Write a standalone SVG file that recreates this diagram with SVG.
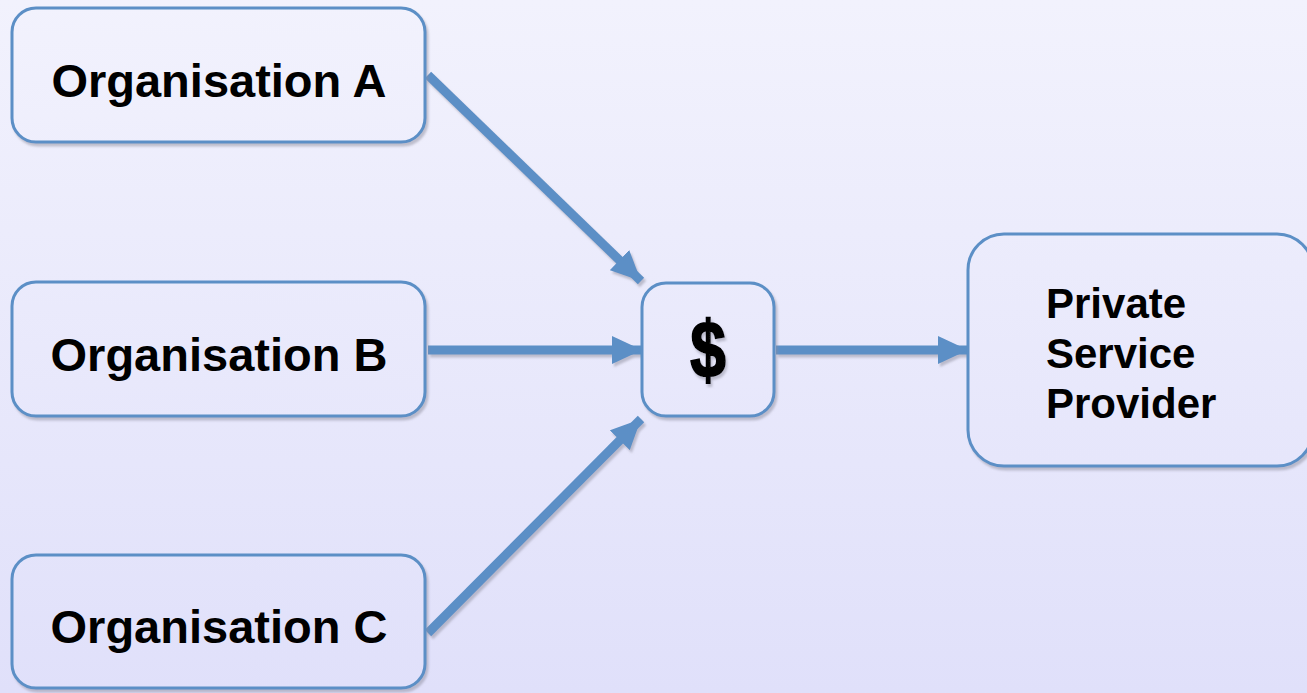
<svg xmlns="http://www.w3.org/2000/svg" width="1307" height="693" viewBox="0 0 1307 693">
<defs>
<linearGradient id="bg" x1="0" y1="0" x2="0" y2="693" gradientUnits="userSpaceOnUse">
<stop offset="0" stop-color="#f2f2fd"/>
<stop offset="1" stop-color="#e0e0fa"/>
</linearGradient>
<filter id="sh" x="-10%" y="-10%" width="130%" height="130%">
<feDropShadow dx="2" dy="3" stdDeviation="1" flood-color="#8c8c9c" flood-opacity="0.5"/>
</filter>
<filter id="shu" filterUnits="userSpaceOnUse" x="0" y="0" width="1307" height="693">
<feDropShadow dx="2" dy="3" stdDeviation="1" flood-color="#8c8c9c" flood-opacity="0.5"/>
</filter>
<marker id="ah" viewBox="0 0 30 28" refX="30" refY="14" markerWidth="30" markerHeight="28" markerUnits="userSpaceOnUse" orient="auto">
<path d="M0,0 L30,14 L0,28 Z" fill="#5b8fc6"/>
</marker>
</defs>
<style>
.box{fill:url(#bg);stroke:#5b8fc6;stroke-width:3;filter:url(#sh)}
.lbl{font-family:"Liberation Sans",Arial,sans-serif;font-weight:bold;fill:#000}
.org{font-size:47px;text-anchor:middle}
.psp{font-size:42px}
.con{stroke:#5b8fc6;stroke-width:9;fill:none;marker-end:url(#ah)}
</style>
<rect width="1307" height="693" fill="url(#bg)"/>
<g id="connectors" filter="url(#shu)">
<line class="con" x1="428" y1="75" x2="641" y2="281"/>
<line class="con" x1="428" y1="350" x2="642" y2="350"/>
<line class="con" x1="428" y1="633" x2="641" y2="419"/>
<line class="con" x1="776" y1="350" x2="968" y2="350"/>
</g>
<g id="orgA">
<rect class="box" x="12" y="8" width="413" height="134" rx="24"/>
<text class="lbl org" x="219" y="97">Organisation A</text>
</g>
<g id="orgB">
<rect class="box" x="12" y="282" width="413" height="134" rx="24"/>
<text class="lbl org" x="219" y="371">Organisation B</text>
</g>
<g id="orgC">
<rect class="box" x="12" y="555" width="413" height="133" rx="24"/>
<text class="lbl org" x="219" y="643">Organisation C</text>
</g>
<g id="money">
<rect class="box" x="642" y="283" width="132" height="133" rx="24"/>
<text class="lbl" transform="translate(708,377) scale(0.8,1)" x="0" y="0" font-size="80" text-anchor="middle" stroke="#000" stroke-width="2" filter="url(#sh)">$</text>
</g>
<g id="provider">
<rect class="box" x="968" y="234" width="345" height="232" rx="36"/>
<text class="lbl psp" x="1046" y="318">Private</text>
<text class="lbl psp" x="1046" y="368">Service</text>
<text class="lbl psp" x="1046" y="418">Provider</text>
</g>
</svg>
